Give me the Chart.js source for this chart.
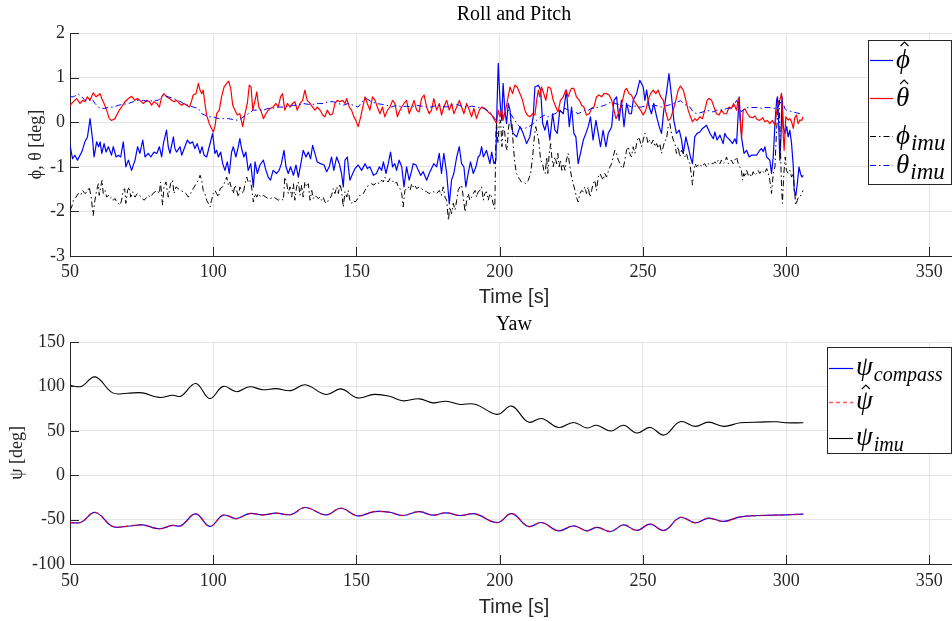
<!DOCTYPE html>
<html>
<head>
<meta charset="utf-8">
<script src="https://cdn.jsdelivr.net/npm/chart.js@4.4.1/dist/chart.umd.min.js"></script>
<style>
html,body{margin:0;padding:0;background:#fff;overflow:hidden;width:952px;height:621px}
#wrap{position:relative;width:952px;height:621px;overflow:hidden;background:#fff}
canvas{position:absolute;left:0}
#rp{top:0}
#yaw{top:310px}
</style>
</head>
<body>
<div id="wrap">
<canvas id="rp" width="962" height="310"></canvas>
<canvas id="yaw" width="962" height="311"></canvas>
</div>
<script>
// ---- axis ticks ----
const timeTicks = [50, 100, 150, 200, 250, 300, 350];
const attTicks = [-3, -2, -1, 0, 1, 2];
const yawTicks = [-100, -50, 0, 50, 100, 150];

// ---- roll / pitch series: [time s, angle deg] ----
const phiHat = [[50.0,-0.52],[50.9,-0.82],[51.7,-0.74],[52.6,-0.85],[54.1,-0.67],[55.2,-0.44],[56.1,-0.33],[57.0,0.08],[57.9,-0.40],[58.4,-0.78],
[59.3,-0.44],[60.0,-0.55],[60.5,-0.44],[61.1,-0.70],[61.9,-0.48],[62.6,-0.67],[63.4,-0.55],[64.5,-0.74],[65.1,-0.55],[66.1,-0.78],
[66.9,-0.74],[67.7,-0.78],[68.6,-0.44],[69.5,-1.00],[70.4,-0.85],[71.5,-1.08],[72.7,-0.85],[73.6,-0.55],[74.4,-0.70],[75.4,-0.40],
[76.2,-0.78],[77.3,-0.70],[78.2,-0.78],[79.3,-0.67],[80.3,-0.70],[81.2,-0.55],[82.0,-0.78],[82.6,-0.48],[83.7,-0.18],[84.3,-0.55],
[84.9,-0.70],[86.1,-0.33],[86.6,-0.59],[87.2,-0.67],[88.4,-0.55],[89.0,-0.74],[90.1,-0.55],[91.0,-0.40],[91.9,-0.48],[92.8,-0.44],
[93.6,-0.59],[94.4,-0.48],[95.4,-0.70],[96.1,-0.55],[96.8,-0.74],[97.7,-0.78],[98.6,-0.55],[99.8,-0.25],[100.6,-0.70],[101.2,-0.63],
[101.8,-0.78],[102.6,-0.67],[103.3,-0.93],[104.1,-1.08],[104.9,-0.89],[105.6,-1.15],[106.4,-0.67],[107.0,-0.55],[107.9,-0.78],[108.6,-0.59],
[109.3,-0.37],[109.9,-0.59],[110.7,-0.78],[111.4,-0.67],[112.2,-1.08],[113.1,-0.93],[114.0,-1.45],[114.6,-0.89],[115.4,-1.15],[116.3,-0.96],
[117.5,-0.85],[118.4,-1.08],[119.2,-1.23],[120.0,-1.30],[120.9,-1.08],[122.1,-1.15],[123.0,-1.08],[123.8,-0.93],[124.7,-0.63],[125.4,-1.00],
[126.2,-1.15],[127.0,-1.00],[128.0,-1.19],[128.9,-0.96],[129.7,-1.23],[130.5,-0.96],[131.4,-0.63],[132.4,-0.78],[133.2,-0.67],[134.0,-0.82],
[134.7,-0.52],[135.5,-0.70],[136.3,-0.89],[137.5,-0.93],[138.7,-0.96],[139.6,-1.11],[140.5,-1.00],[141.3,-0.78],[142.1,-1.08],[143.1,-0.78],
[144.0,-0.93],[144.8,-1.15],[145.4,-1.45],[146.0,-0.85],[146.8,-0.78],[147.7,-1.30],[148.7,-1.15],[149.5,-1.04],[150.6,-0.96],[151.8,-1.08],
[153.0,-0.93],[153.8,-1.04],[154.7,-1.00],[155.9,-1.19],[157.0,-1.15],[158.0,-1.00],[158.8,-1.08],[159.4,-0.89],[160.3,-1.15],[161.1,-0.93],
[161.9,-0.67],[162.6,-1.00],[163.4,-0.93],[164.0,-1.08],[164.9,-0.85],[165.8,-1.00],[166.6,-1.45],[167.5,-1.00],[168.4,-1.30],[169.3,-1.08],
[169.8,-0.93],[170.8,-0.96],[171.6,-1.08],[172.4,-1.19],[173.3,-1.11],[174.5,-1.30],[175.4,-1.15],[176.2,-1.04],[177.0,-0.93],[178.0,-1.00],
[178.9,-0.70],[179.7,-1.15],[180.5,-0.70],[181.5,-1.15],[182.4,-1.83],[183.2,-1.30],[184.0,-1.15],[185.0,-0.78],[185.9,-0.55],[186.7,-0.93],
[187.5,-1.00],[188.2,-1.45],[189.0,-1.15],[189.8,-0.89],[190.8,-1.15],[191.7,-1.00],[192.5,-0.78],[193.1,-0.74],
[193.7,-0.55],[194.3,-0.78],[195.4,-0.63],[196.6,-0.93],[197.2,-0.67],[198.0,-0.93],[198.7,-0.85],[198.9,-0.03],[199.5,1.32],[200.1,0.49],
[200.7,0.04],[201.2,0.87],[201.8,0.27],[202.4,-0.03],[203.0,0.42],[203.6,0.27],[204.1,-0.10],[204.7,-0.25],[205.9,-0.33],[207.1,-0.10],
[208.2,-0.25],[209.4,-0.48],[210.5,-0.33],[211.7,0.12],[212.3,0.79],[213.5,0.83],[214.3,0.72],[215.0,-0.03],[215.8,-0.18],[216.6,0.04],
[217.5,-0.40],[218.5,0.19],[219.3,-0.18],[220.1,-0.25],[221.0,0.27],[222.2,0.19],[223.3,0.72],[224.3,-0.10],[225.1,0.34],[225.9,-0.25],
[226.6,-0.33],[227.4,-0.93],[228.2,-0.70],[229.2,-0.40],[230.1,-0.25],[230.9,-0.10],[231.7,0.12],[232.6,-0.40],[233.6,0.04],[234.4,-0.25],
[235.2,-0.55],[236.1,-0.18],[237.1,-0.55],[237.9,-0.25],[239.1,-0.10],[239.9,0.49],[240.8,0.57],[241.7,0.04],[242.5,0.49],[243.4,-0.10],
[244.3,0.42],[245.2,0.19],[246.0,0.19],[246.6,0.49],[247.8,0.64],[248.9,0.94],[249.5,0.87],[250.1,0.79],[250.7,0.49],[251.3,0.72],
[252.2,0.34],[253.0,0.19],[253.8,0.42],[254.8,0.12],[255.7,-0.10],[256.5,-0.25],[257.3,0.27],[258.2,0.64],[259.1,1.09],[260.0,0.57],
[260.8,0.04],[261.7,-0.25],[262.7,-0.18],[263.5,-0.40],[264.1,-0.70],[265.0,-0.33],[265.8,-0.55],[266.6,-0.78],[267.3,-0.93],[268.1,-0.33],
[268.9,-0.25],[269.9,-0.22],[270.8,-0.14],[271.6,-0.10],[272.2,-0.07],[273.4,-0.25],[274.6,-0.37],[275.1,-0.22],[275.9,-0.40],[276.9,-0.29],
[278.0,-0.48],[278.6,-0.25],[279.2,-0.33],[280.4,-0.40],[281.3,-0.48],[282.1,-0.37],[282.7,-0.48],[283.6,0.57],[284.4,-0.33],[285.3,-0.70],
[286.2,-0.63],[287.1,-0.78],[287.9,-0.74],[288.5,-0.74],[289.7,-0.74],[290.8,-0.63],[291.4,-0.59],[292.0,-0.66],[292.6,-0.55],[293.2,-0.78],
[294.3,-0.85],[294.9,-1.15],[295.5,-0.78],[296.1,-0.03],[296.7,0.50],[297.0,0.57],[297.4,-0.03],[297.8,-0.85],[298.2,-0.33],[298.6,0.57],
[299.0,-0.10],[299.6,-0.25],[300.2,-0.10],[300.7,-0.33],[301.3,-0.18],[301.9,-0.48],[302.5,-1.00],[302.8,-1.53],[303.4,-1.64],[303.9,-1.38],
[304.5,-1.00],[305.0,-1.15],[305.5,-1.23],[306.0,-1.19]];

const thetaHat = [[50.0,0.38],[51.2,0.46],[52.3,0.53],[53.5,0.42],[54.4,0.49],[55.2,0.46],[56.1,0.57],[57.0,0.49],[58.1,0.66],[59.1,0.57],
[59.9,0.61],[60.5,0.64],[61.1,0.53],[61.9,0.42],[62.8,0.27],[63.7,0.08],[64.5,0.04],[65.7,0.08],[66.3,0.16],[67.2,0.27],
[68.0,0.34],[69.2,0.46],[70.4,0.53],[71.5,0.58],[72.7,0.49],[73.5,0.53],[74.4,0.49],[75.6,0.42],[76.8,0.49],[77.7,0.46],
[78.5,0.38],[79.3,0.46],[80.3,0.42],[81.2,0.34],[82.0,0.57],[82.8,0.64],[83.7,0.57],[84.7,0.53],[85.5,0.49],[86.3,0.46],
[87.2,0.49],[88.2,0.42],[89.0,0.38],[89.8,0.42],[90.7,0.38],[91.7,0.34],[92.5,0.49],[93.0,0.61],[94.0,0.64],[94.8,0.87],
[95.4,0.72],[96.0,0.64],[96.5,0.72],[97.1,0.42],[97.7,0.16],[98.6,-0.03],[99.4,-0.14],[100.0,-0.22],[100.6,-0.10],[101.2,0.19],
[102.1,0.27],[102.9,0.57],[103.8,0.79],[104.7,0.87],[105.4,0.92],[106.1,0.76],[106.8,0.38],[107.6,0.27],[108.4,0.16],[109.3,0.19],
[110.3,-0.10],[111.1,0.19],[111.9,0.42],[112.6,0.83],[113.2,0.79],[113.8,0.27],[114.6,0.49],[115.2,0.68],[115.9,0.34],[116.6,0.27],
[117.5,0.08],[118.4,0.19],[119.2,0.27],[120.0,0.31],[120.9,0.34],[121.9,0.42],[122.7,0.34],[123.5,0.57],[124.2,0.64],[125.0,0.27],
[125.9,0.42],[126.8,0.34],[127.7,0.42],[128.5,0.46],[129.3,0.27],[130.3,0.42],[131.2,0.49],[132.0,0.72],[132.8,0.49],[133.8,0.42],
[134.7,0.34],[135.5,0.27],[136.3,0.34],[137.3,0.27],[138.2,0.16],[139.0,0.12],[139.8,0.27],[140.8,0.16],[141.7,0.19],[142.5,0.42],
[143.3,0.49],[144.2,0.46],[145.2,0.49],[146.0,0.42],[146.6,0.53],[147.5,0.34],[148.3,0.27],[149.1,0.12],[149.8,0.04],[150.6,-0.10],
[151.5,0.12],[152.2,0.34],[153.0,0.57],[153.8,0.42],[154.7,0.27],[155.6,0.57],[156.5,0.49],[157.3,0.34],[158.2,0.19],[159.1,0.34],
[159.9,0.12],[160.8,0.27],[161.7,0.34],[162.6,0.49],[163.4,0.42],[164.3,0.12],[164.9,0.23],[165.8,0.34],[166.6,0.42],[167.5,0.49],
[168.4,0.19],[169.3,0.34],[170.1,0.49],[171.0,0.27],[171.9,0.23],[172.7,0.53],[173.6,0.61],[174.5,0.34],[175.4,0.19],[176.2,0.27],
[177.0,0.53],[178.0,0.27],[178.9,0.42],[179.7,0.16],[180.5,0.34],[181.5,0.49],[182.4,0.27],[183.2,0.42],[184.0,0.19],[185.0,0.34],
[185.9,0.49],[186.7,0.34],[187.5,0.19],[188.5,0.42],[189.4,0.27],[190.2,0.12],[191.0,0.31],[191.9,0.08],[192.9,0.27],
[193.7,0.34],[194.8,0.31],[196.0,0.23],[197.2,0.16],[198.3,0.04],[198.9,-0.03],[199.5,0.27],[200.1,0.12],[200.7,0.27],[201.2,0.04],
[202.4,0.38],[203.6,0.79],[204.5,0.64],[205.3,0.83],[206.1,0.79],[207.1,0.64],[208.0,0.49],[208.8,0.27],[209.6,0.16],[210.5,0.12],
[211.5,0.19],[212.3,0.16],[212.9,0.49],[213.5,0.72],[214.0,0.57],[214.6,0.79],[215.2,0.68],[216.1,0.49],[216.9,0.79],[217.8,0.76],
[218.7,0.49],[219.6,0.34],[220.4,0.23],[221.2,0.49],[222.2,0.57],[223.1,0.72],[223.9,0.57],[224.5,0.68],[225.1,0.76],[225.9,0.76],
[226.8,0.57],[227.8,0.49],[228.6,0.38],[229.4,0.34],[230.3,0.16],[231.3,0.19],[232.1,0.31],[232.9,0.34],[233.8,0.57],[234.7,0.61],
[235.6,0.57],[236.4,0.64],[237.3,0.64],[238.2,0.61],[239.1,0.49],[239.9,0.27],[240.6,0.08],[241.4,0.19],[242.2,0.34],[242.9,0.49],
[243.7,0.72],[244.3,0.76],[245.2,0.64],[246.0,0.61],[246.8,0.49],[247.5,0.42],[248.4,0.34],[249.2,0.27],[250.1,0.16],[251.0,0.27],
[251.8,0.49],[252.7,0.64],[253.6,0.72],[254.5,0.64],[255.3,0.72],[256.2,0.57],[257.1,0.49],[258.0,0.23],[258.8,0.04],[259.6,0.08],
[260.6,0.27],[261.5,0.49],[262.3,0.72],[263.1,0.81],[264.1,0.72],[265.0,0.49],[265.8,0.27],[266.6,0.12],[267.3,0.01],[268.1,0.08],
[268.9,0.04],[269.9,0.12],[270.8,0.08],[271.6,0.27],[272.4,0.49],[273.1,0.53],[274.0,0.49],[274.8,0.34],[275.7,0.19],[276.6,0.16],
[277.4,0.27],[278.3,0.19],[279.2,0.19],[280.1,0.34],[280.9,0.31],[281.7,0.42],[282.7,0.27],[283.3,0.53],[284.1,-0.10],[284.5,-0.33],
[285.0,0.27],[285.6,0.30],[286.4,0.20],[287.3,0.12],[288.3,0.10],[289.1,0.14],[289.9,0.06],[290.8,0.04],[291.8,0.10],[292.6,0.01],
[293.4,0.04],[294.3,-0.03],[295.2,0.04],[296.1,-0.07],[296.6,0.19],[297.2,0.42],[297.8,0.50],[298.4,0.65],[299.0,-0.30],[299.3,-0.63],
[299.9,0.12],[300.7,0.05],[301.3,0.08],[301.9,0.01],[302.5,-0.14],[303.0,0.10],[303.6,0.16],[304.2,-0.03],[304.8,0.05],[305.4,0.04],
[305.9,0.12]];

const phiImu = [[50.0,-1.97],[50.6,-1.90],[51.2,-1.75],[52.1,-1.68],[52.9,-1.60],[53.7,-1.64],[54.4,-1.53],[55.2,-1.60],[56.1,-1.56],[56.7,-1.45],
[57.4,-1.68],[58.1,-2.09],[58.7,-1.75],[59.3,-1.53],[59.9,-1.38],[60.2,-1.64],[60.7,-1.45],[61.2,-1.30],[61.6,-1.60],[62.2,-1.53],
[62.8,-1.68],[63.4,-1.64],[64.0,-1.71],[64.5,-1.68],[65.1,-1.75],[65.7,-1.71],[66.3,-1.79],[66.9,-1.82],[67.5,-1.86],[68.0,-1.75],
[68.6,-1.53],[69.1,-1.49],[69.5,-1.82],[70.1,-1.53],[70.7,-1.45],[71.2,-1.68],[71.9,-1.56],[72.7,-1.68],[73.5,-1.60],[74.2,-1.64],
[75.0,-1.68],[75.8,-1.75],[76.5,-1.71],[77.3,-1.64],[78.2,-1.68],[78.9,-1.60],[79.7,-1.56],[80.5,-1.53],[81.2,-1.60],[81.6,-1.34],
[82.3,-1.86],[82.8,-1.45],[83.5,-1.34],[84.3,-1.68],[85.1,-1.38],[85.8,-1.30],[86.3,-1.60],[87.0,-1.45],[87.8,-1.49],[88.6,-1.53],
[89.6,-1.56],[90.5,-1.60],[91.3,-1.68],[92.1,-1.60],[93.0,-1.49],[94.0,-1.38],[94.8,-1.30],[95.4,-1.19],[96.0,-1.30],[96.5,-1.53],
[97.1,-1.60],[97.7,-1.75],[98.3,-1.82],[98.9,-1.90],[99.4,-1.75],[100.0,-1.60],[100.6,-1.53],[101.2,-1.60],[101.8,-1.68],[102.4,-1.49],
[103.3,-1.45],[104.1,-1.34],[104.7,-1.23],[105.3,-1.41],[105.8,-1.34],[106.4,-1.49],[107.0,-1.60],[107.6,-1.41],[108.2,-1.53],[108.8,-1.68],
[109.3,-1.45],[109.9,-1.53],[110.5,-1.60],[111.1,-1.38],[111.7,-1.23],[112.2,-1.34],[112.8,-1.30],[113.4,-1.45],[114.0,-1.79],[114.6,-1.60],
[115.2,-1.68],[115.7,-1.60],[116.6,-1.68],[117.5,-1.64],[118.4,-1.68],[119.2,-1.71],[120.0,-1.71],[120.9,-1.68],[121.9,-1.71],[122.7,-1.75],
[123.5,-1.71],[124.5,-1.75],[125.0,-1.23],[125.6,-1.34],[126.2,-1.60],[126.8,-1.45],[127.4,-1.68],[128.0,-1.38],[128.5,-1.75],[129.1,-1.45],
[129.7,-1.34],[130.3,-1.64],[130.9,-1.41],[131.4,-1.68],[132.0,-1.34],[132.6,-1.45],[133.2,-1.38],[133.8,-1.75],[134.4,-1.53],[134.9,-1.71],
[135.5,-1.64],[136.1,-1.68],[136.7,-1.71],[137.3,-1.68],[137.8,-1.75],[138.4,-1.68],[139.0,-1.79],[139.6,-1.82],[140.2,-1.75],[140.8,-1.71],
[141.3,-1.64],[141.9,-1.49],[142.5,-1.60],[143.1,-1.45],[143.7,-1.60],[144.2,-1.38],[144.8,-1.53],[145.4,-1.90],[146.0,-1.56],[146.6,-1.68],
[147.1,-1.53],[147.7,-1.75],[148.3,-1.82],[148.9,-1.75],[149.5,-1.79],[150.1,-1.75],[150.6,-1.68],[151.2,-1.64],[151.8,-1.64],[152.4,-1.60],
[153.0,-1.53],[153.5,-1.45],[154.5,-1.41],[155.3,-1.38],[156.1,-1.41],[157.0,-1.34],[158.0,-1.38],[158.8,-1.30],[159.4,-1.34],[159.9,-1.23],
[160.5,-1.30],[161.1,-1.34],[161.7,-1.26],[162.3,-1.30],[162.9,-1.34],[163.4,-1.38],[164.0,-1.34],[164.6,-1.45],[165.2,-1.49],[165.8,-1.60],
[166.3,-1.90],[166.9,-1.53],[167.5,-1.49],[168.1,-1.45],[168.7,-1.53],[169.3,-1.38],[169.8,-1.45],[170.4,-1.41],[171.0,-1.49],[171.9,-1.45],
[172.7,-1.49],[173.6,-1.53],[174.5,-1.56],[175.4,-1.60],[176.2,-1.56],[177.0,-1.56],[178.0,-1.60],[178.9,-1.53],[179.7,-1.64],[180.3,-1.45],
[180.9,-1.68],[181.5,-1.75],[182.1,-2.20],[182.6,-1.90],[183.2,-2.05],[183.8,-1.82],[184.4,-1.97],[185.0,-1.75],[185.5,-1.53],[186.1,-1.45],
[186.7,-1.41],[187.3,-1.68],[187.9,-2.01],[188.5,-1.75],[189.0,-1.60],[189.6,-1.75],[190.2,-1.68],[190.8,-1.60],[191.4,-1.53],[191.9,-1.68],
[192.5,-1.56],[193.1,-1.53],[193.7,-1.45],[194.3,-1.75],[194.8,-1.60],[195.4,-1.56],[196.0,-1.75],[196.6,-1.60],[197.2,-1.68],[197.7,-1.82],
[198.3,-1.94],[198.7,-0.25],[198.9,-0.03],[199.4,-0.48],[199.8,-0.07],[200.3,0.04],[200.8,-0.55],[201.2,-0.10],[201.7,-0.18],[202.2,-0.55],
[202.6,-0.63],[203.0,-0.18],[203.3,-0.03],[203.8,0.04],[204.3,-0.03],[204.7,-0.48],[205.3,-0.93],[205.9,-1.15],[206.8,-1.26],[207.6,-1.34],
[208.4,-1.34],[209.1,-1.38],[210.0,-1.30],[210.8,-1.15],[211.5,-0.78],[212.1,-0.33],[212.6,-0.10],[213.1,-0.25],[213.6,-0.40],[214.3,-0.85],
[215.0,-0.93],[215.4,-1.08],[215.9,-1.15],[216.4,-0.78],[216.8,-1.15],[217.3,-0.70],[217.8,-0.48],[218.2,-0.78],[218.7,-1.00],[219.3,-0.78],
[219.9,-0.93],[220.3,-0.70],[220.8,-1.00],[221.2,-0.85],[221.7,-1.08],[222.2,-0.93],[222.8,-1.08],[223.3,-0.85],[223.9,-0.70],[224.5,-1.00],
[225.1,-1.23],[225.7,-1.38],[226.3,-1.53],[226.8,-1.68],[227.4,-1.79],[228.0,-1.60],[228.6,-1.53],[229.2,-1.56],[229.7,-1.45],[230.3,-1.60],
[230.9,-1.45],[231.5,-1.68],[232.1,-1.53],[232.6,-1.38],[233.2,-1.30],[233.8,-1.53],[234.4,-1.23],[235.0,-1.15],[235.6,-1.23],[236.1,-1.30],
[236.7,-1.15],[237.3,-1.23],[237.9,-1.11],[238.5,-1.00],[239.1,-0.93],[239.6,-0.78],[240.2,-0.63],[240.8,-0.70],[241.4,-0.85],[242.0,-0.93],
[242.5,-1.00],[243.1,-1.04],[243.7,-0.85],[244.3,-0.63],[244.9,-0.55],[245.4,-0.70],[246.0,-0.78],[246.6,-0.55],[247.2,-0.70],[247.8,-0.48],
[248.4,-0.33],[248.9,-0.40],[249.5,-0.55],[250.1,-0.40],[250.7,-0.25],[251.3,-0.33],[251.8,-0.48],[252.4,-0.40],[253.0,-0.48],[253.6,-0.40],
[254.2,-0.55],[254.8,-0.48],[255.3,-0.59],[255.9,-0.48],[256.5,-0.70],[257.1,-0.55],[257.7,-0.40],[258.2,-0.40],[258.8,-0.10],[259.4,-0.03],
[260.0,-0.25],[260.6,-0.40],[261.2,-0.48],[261.7,-0.70],[262.3,-0.55],[262.9,-0.78],[263.5,-0.63],[264.1,-0.70],[264.6,-0.78],[265.2,-0.70],
[265.8,-0.85],[266.4,-0.93],[267.0,-1.23],[267.3,-1.41],[267.8,-1.08],[268.3,-0.93],[268.7,-1.00],[269.3,-0.96],[269.9,-0.93],[270.5,-1.00],
[271.0,-0.96],[271.6,-0.93],[272.2,-1.00],[272.8,-0.93],[273.4,-0.96],[274.0,-0.93],[274.5,-0.93],[275.1,-0.89],[275.7,-0.93],[276.3,-0.85],
[276.9,-0.93],[277.4,-0.85],[278.0,-0.93],[278.6,-0.89],[279.2,-0.78],[279.8,-0.93],[280.4,-0.89],[280.9,-0.85],[281.5,-0.93],[282.1,-0.85],
[282.7,-0.78],[283.3,-0.93],[283.8,-1.00],[284.4,-1.08],[284.8,-1.30],[285.2,-1.15],[285.7,-1.23],[286.2,-1.08],[286.8,-1.19],[287.3,-1.15],
[287.9,-1.23],[288.5,-1.11],[289.1,-1.19],[289.7,-1.15],[290.2,-1.08],[290.8,-1.15],[291.4,-1.08],[292.0,-1.11],[292.6,-1.15],[293.2,-1.04],
[293.7,-1.11],[294.3,-1.30],[294.9,-1.60],[295.5,-1.15],[296.1,-1.00],[296.6,-0.25],[297.2,0.34],[297.6,0.49],[298.0,-0.55],[298.4,-1.45],
[298.7,-1.82],[299.2,-1.15],[299.7,-0.78],[300.1,-1.08],[300.7,-1.15],[301.3,-1.08],[301.9,-1.23],[302.5,-1.15],[303.0,-1.60],[303.4,-1.86],
[303.9,-1.75],[304.3,-1.68],[304.8,-1.68],[305.4,-1.60],[305.9,-1.53]];

const thetaImu = [[50.0,0.57],[51.2,0.57],[52.9,0.63],[54.1,0.57],[55.2,0.49],[56.4,0.49],[57.6,0.53],[58.7,0.42],[59.9,0.34],[61.1,0.31],
[62.2,0.31],[63.4,0.34],[65.1,0.34],[66.9,0.38],[68.6,0.40],[70.4,0.42],[72.1,0.46],[73.9,0.49],[75.6,0.49],[77.3,0.46],
[79.1,0.49],[80.8,0.49],[82.6,0.61],[84.3,0.57],[86.1,0.53],[87.8,0.49],[89.6,0.42],[91.3,0.38],[93.0,0.34],[94.8,0.31],
[96.0,0.19],[97.1,0.16],[98.3,0.12],[100.0,0.12],[101.8,0.08],[103.5,0.08],[105.3,0.08],[107.0,0.06],[108.8,0.04],[110.5,0.12],
[112.2,0.19],[114.0,0.27],[115.7,0.27],[117.5,0.27],[119.2,0.31],[120.9,0.31],[122.7,0.34],[124.5,0.34],[126.2,0.36],[128.0,0.38],
[129.7,0.38],[131.4,0.42],[133.2,0.40],[134.9,0.40],[136.7,0.42],[138.4,0.42],[140.2,0.46],[141.9,0.46],[143.7,0.42],[145.4,0.38],
[147.1,0.42],[148.9,0.38],[150.6,0.34],[152.4,0.49],[153.5,0.53],[155.3,0.46],[157.0,0.42],[158.8,0.40],[160.5,0.38],[162.3,0.34],
[164.0,0.38],[165.8,0.34],[167.5,0.36],[169.3,0.34],[171.0,0.38],[172.7,0.36],[174.5,0.34],[176.2,0.34],[178.0,0.38],[179.7,0.36],
[181.5,0.34],[183.2,0.38],[185.0,0.40],[186.7,0.36],[188.5,0.34],[190.2,0.36],[191.9,0.34],[194.3,0.31],[196.6,0.23],[198.3,0.08],
[199.5,0.01],[200.7,0.12],[201.8,0.19],[203.0,0.27],[204.1,0.16],[205.3,0.04],[206.5,-0.07],[207.6,-0.14],[208.8,-0.14],[210.0,-0.10],
[211.1,-0.07],[212.3,0.01],[213.5,0.08],[214.6,0.12],[215.8,0.16],[216.9,0.12],[218.1,0.16],[219.3,0.19],[220.4,0.23],[221.6,0.27],
[222.8,0.31],[223.9,0.27],[225.1,0.23],[226.3,0.23],[227.4,0.19],[228.6,0.23],[229.7,0.27],[230.9,0.27],[232.1,0.31],[233.2,0.31],
[234.4,0.34],[235.6,0.36],[236.7,0.38],[237.9,0.42],[239.1,0.46],[240.2,0.42],[241.4,0.40],[242.5,0.38],[243.7,0.36],[244.9,0.38],
[246.0,0.34],[247.2,0.36],[248.4,0.34],[249.5,0.34],[250.7,0.36],[251.8,0.38],[253.0,0.36],[254.2,0.38],[255.3,0.36],[256.5,0.34],
[257.7,0.36],[258.8,0.38],[260.0,0.40],[261.2,0.43],[262.3,0.46],[263.1,0.48],[264.1,0.42],[265.2,0.38],[266.4,0.34],[267.6,0.23],
[268.7,0.19],[269.9,0.21],[271.0,0.23],[272.2,0.27],[273.4,0.25],[274.5,0.23],[275.7,0.27],[276.9,0.28],[278.0,0.27],[279.2,0.31],
[280.4,0.31],[281.5,0.34],[282.7,0.49],[283.6,0.36],[284.4,0.23],[285.6,0.31],[286.8,0.33],[287.9,0.33],[289.1,0.33],[290.2,0.33],
[291.4,0.31],[292.6,0.33],[293.7,0.33],[294.9,0.32],[296.1,0.31],[297.2,0.34],[298.4,0.49],[299.0,0.42],[299.5,0.31],[300.1,0.27],
[301.3,0.25],[302.5,0.23],[303.6,0.21],[304.8,0.19],[305.9,0.19]];

// ---- yaw series: [time s, heading deg] ----
const psiCompass = [[50,-53.3],[53.9,-53],[58.8,-42],[64.9,-57.7],[70,-57.5],[75.3,-56],[81.1,-60.3],[85.8,-56.5],[88.7,-57],[93.9,-43.6],
[98.8,-57.7],[103.5,-45],[108.1,-48.8],[112.6,-43.2],[117.2,-44.7],[121.9,-42.8],[127.1,-44.3],[132.1,-36.4],[139.4,-44.7],[144.6,-37.2],
[150.4,-45.8],[156.2,-41],[161.5,-41.7],[166.1,-45.4],[171.9,-41],[176.6,-45],[181.3,-42.4],[186.1,-45.4],[191.4,-43.6],[199.2,-53.3],
[204.2,-43.2],[210,-57.7],[214.7,-53.3],[220.5,-62.6],[225.8,-57],[230.4,-62.6],[233.9,-58.8],[238.8,-63.4],[243.2,-55.9],[247.9,-62.2],
[252.5,-55.1],[257.4,-62.2],[263,-47.6],[268.3,-53.6],[272.9,-48.4],[278.2,-52.1],[284,-46.9],[291,-45.4],[299.7,-44.7],[306,-43.9]];

const psiHat = [[50,-53.3],[53.9,-53],[58.8,-42],[64.9,-57.7],[70,-57.5],[75.3,-56],[81.1,-60.3],[85.8,-56.5],[88.7,-57],[93.9,-43.6],
[98.8,-57.7],[103.5,-45],[108.1,-48.8],[112.6,-43.2],[117.2,-44.7],[121.9,-42.8],[127.1,-44.3],[132.1,-36.4],[139.4,-44.7],[144.6,-37.2],
[150.4,-45.8],[156.2,-41],[161.5,-41.7],[166.1,-45.4],[171.9,-41],[176.6,-45],[181.3,-42.4],[186.1,-45.4],[191.4,-43.6],[199.2,-53.3],
[204.2,-43.2],[210,-57.7],[214.7,-53.3],[220.5,-62.6],[225.8,-57],[230.4,-62.6],[233.9,-58.8],[238.8,-63.4],[243.2,-55.9],[247.9,-62.2],
[252.5,-55.1],[257.4,-62.2],[263,-47.6],[268.3,-53.6],[272.9,-48.4],[278.2,-52.1],[284,-46.9],[291,-45.4],[299.7,-44.7],[306,-43.9]];

const psiImu = [[50,101],[53.9,100],[58.8,110.7],[64.9,92.7],[70,92.3],[75.3,92.7],[81.1,87.6],[85.8,90],[88.7,89],[93.9,103.3],
[98.8,86.4],[103.5,100],[108.1,94],[112.6,99.6],[117.2,96.3],[121.9,97.5],[127.1,95.2],[132.1,101.8],[139.4,90.9],[144.6,97.2],
[150.4,87.1],[156.2,91],[161.5,88.9],[166.1,83.8],[171.9,86],[176.6,81.5],[181.3,83.3],[186.1,79.7],[191.4,80],[199.2,68.5],
[204.2,77.8],[210,59.8],[214.7,63.8],[220.5,53.8],[225.8,59.4],[230.4,53.2],[233.9,56.2],[238.8,49.7],[243.2,56.2],[247.9,47.5],
[252.5,53.8],[257.4,45.2],[263,60.2],[268.3,55],[272.9,59.8],[278.2,55],[284,59],[291,59.8],[296.8,60.2],[299.7,59],[306,59]];

// ---- styling ----
const SERIF = '"Liberation Serif","DejaVu Serif",serif';
const SANS = '"Liberation Sans",Arial,sans-serif';
const AXIS = '#262626';
const GRID = '#e4e4e4';
const DASHDOT = [6, 3, 1.5, 3];

const toXY = pairs => pairs.map(p => ({ x: p[0], y: p[1] }));

function series(label, pairs, color, width, dash, order, tension) {
  return {
    label, data: toXY(pairs), borderColor: color, borderWidth: width,
    borderDash: dash, order, tension: tension || 0, fill: false,
    pointRadius: 0, borderCapStyle: 'butt', borderJoinStyle: 'round'
  };
}

// frame decorations: inward tick marks, title and the math-style legend
function decorations(title, box, items) {
  return {
    id: 'decorations',
    afterDraw(chart) {
      const ctx = chart.ctx, a = chart.chartArea;
      const sx = chart.scales.x, sy = chart.scales.y;
      ctx.save();
      ctx.strokeStyle = AXIS; ctx.lineWidth = 1; ctx.setLineDash([]);
      ctx.beginPath();
      sx.ticks.forEach(t => {
        const px = Math.round(sx.getPixelForValue(t.value)) + 0.5;
        ctx.moveTo(px, a.bottom); ctx.lineTo(px, a.bottom - 9);
      });
      sy.ticks.forEach(t => {
        const py = Math.round(sy.getPixelForValue(t.value)) + 0.5;
        ctx.moveTo(a.left, py); ctx.lineTo(a.left + 9, py);
      });
      ctx.stroke();

      ctx.fillStyle = '#000';
      ctx.font = '20px ' + SERIF;
      ctx.textAlign = 'center'; ctx.textBaseline = 'middle';
      ctx.fillText(title, (a.left + a.right) / 2, 15);

      ctx.fillStyle = '#fff';
      ctx.fillRect(box.x, box.y, box.w, box.h);
      ctx.strokeStyle = AXIS; ctx.lineWidth = 1;
      ctx.strokeRect(box.x + 0.5, box.y + 0.5, box.w, box.h);

      items.forEach(it => {
        ctx.beginPath();
        ctx.setLineDash(it.dash);
        ctx.strokeStyle = it.color; ctx.lineWidth = it.width;
        ctx.moveTo(box.x + 2, it.y + 0.5); ctx.lineTo(box.x + box.line, it.y + 0.5);
        ctx.stroke();
        ctx.setLineDash([]);

        const tx = box.x + box.line + 3, base = it.y + box.base;
        ctx.fillStyle = '#000';
        ctx.textAlign = 'left'; ctx.textBaseline = 'alphabetic';
        ctx.font = 'italic ' + box.size + 'px ' + SERIF;
        ctx.fillText(it.sym, tx, base);
        const m = ctx.measureText(it.sym);
        if (it.hat) {
          const cx = tx + m.width / 2 + 1.5;
          const top = base - m.actualBoundingBoxAscent - 3;
          ctx.beginPath();
          ctx.strokeStyle = '#000'; ctx.lineWidth = 1.1;
          ctx.moveTo(cx - 4, top); ctx.lineTo(cx, top - 4); ctx.lineTo(cx + 4, top);
          ctx.stroke();
        }
        if (it.sub) {
          ctx.font = 'italic ' + box.subSize + 'px ' + SERIF;
          ctx.fillText(it.sub, tx + m.width + 1, base + 6);
        }
      });
      ctx.restore();
    }
  };
}

function makeChart(id, o) {
  return new Chart(document.getElementById(id), {
    type: 'line',
    data: { datasets: o.datasets },
    options: {
      responsive: false, animation: false, devicePixelRatio: 1,
      layout: { padding: { top: o.padTop, right: 4, left: 0, bottom: 0 } },
      plugins: { legend: { display: false }, tooltip: { enabled: false }, title: { display: false } },
      scales: {
        x: {
          type: 'linear', min: 50, max: 360,
          afterBuildTicks: s => { s.ticks = timeTicks.map(v => ({ value: v })); },
          afterFit: s => { s.height = o.xHeight; },
          grid: { color: GRID, lineWidth: 1, drawTicks: false },
          border: { color: AXIS, width: 1 },
          ticks: { color: AXIS, font: { family: SERIF, size: 18 }, padding: o.xTickPad, maxRotation: 0, autoSkip: false },
          title: { display: true, text: 'Time [s]', color: AXIS, font: { family: SANS, size: 20 }, padding: { top: 0, bottom: o.xTitlePad } }
        },
        y: {
          type: 'linear', min: o.yMin, max: o.yMax,
          afterBuildTicks: s => { s.ticks = o.yTicks.map(v => ({ value: v })); },
          afterFit: s => { s.width = 70; },
          grid: { color: GRID, lineWidth: 1, drawTicks: false },
          border: { color: AXIS, width: 1 },
          ticks: { color: AXIS, font: { family: SERIF, size: 18 }, padding: 5 },
          title: { display: true, text: o.yTitle, color: AXIS, font: { family: SERIF, size: 18 }, padding: { top: o.yTitlePad, bottom: 0 } }
        }
      }
    },
    plugins: [decorations(o.title, o.legendBox, o.legendItems)]
  });
}

makeChart('rp', {
  title: 'Roll and Pitch',
  padTop: 33, xHeight: 54, xTickPad: 5, xTitlePad: 1,
  yMin: -3, yMax: 2, yTicks: attTicks, yTitle: 'ϕ, θ [deg]', yTitlePad: 25,
  datasets: [
    series('phi hat', phiHat, '#0000ff', 1.2, [], 4),
    series('theta hat', thetaHat, '#ff0000', 1.2, [], 3),
    series('phi imu', phiImu, '#000000', 1, DASHDOT, 2),
    series('theta imu', thetaImu, '#0000ff', 1, DASHDOT, 1)
  ],
  legendBox: { x: 868, y: 40, w: 83, h: 144, line: 25, base: 8, size: 27, subSize: 23 },
  legendItems: [
    { y: 60, color: '#0000ff', width: 1.2, dash: [], sym: 'ϕ', hat: true },
    { y: 98, color: '#ff0000', width: 1.2, dash: [], sym: 'θ', hat: true },
    { y: 136, color: '#000000', width: 1, dash: DASHDOT, sym: 'ϕ', sub: 'imu' },
    { y: 165, color: '#0000ff', width: 1, dash: DASHDOT, sym: 'θ', sub: 'imu' }
  ]
});

makeChart('yaw', {
  title: 'Yaw',
  padTop: 32, xHeight: 57, xTickPad: 6, xTitlePad: 2,
  yMin: -100, yMax: 150, yTicks: yawTicks, yTitle: 'ψ [deg]', yTitlePad: 6,
  datasets: [
    series('psi compass', psiCompass, '#0000ff', 1.2, [], 3, 0.4),
    series('psi hat', psiHat, 'rgba(255,0,0,0.8)', 1.3, [4, 3], 2, 0.4),
    series('psi imu', psiImu, '#000000', 1.1, [], 1, 0.4)
  ],
  legendBox: { x: 827, y: 37, w: 124, h: 106, line: 26, base: 7, size: 27, subSize: 20 },
  legendItems: [
    { y: 58, color: '#0000ff', width: 1.2, dash: [], sym: 'ψ', sub: 'compass' },
    { y: 92, color: 'rgba(255,60,60,0.85)', width: 1.3, dash: [4, 3], sym: 'ψ', hat: true },
    { y: 128, color: '#000000', width: 1.1, dash: [], sym: 'ψ', sub: 'imu' }
  ]
});
</script>
</body>
</html>
